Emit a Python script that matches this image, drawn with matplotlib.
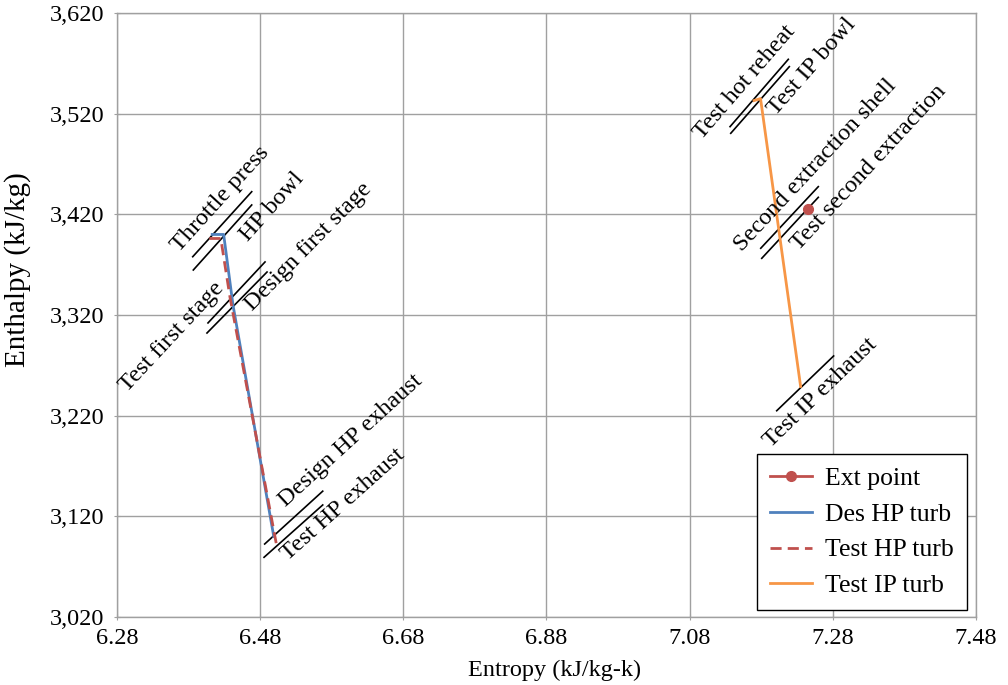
import numpy as np
import matplotlib
matplotlib.use("Agg")
import matplotlib.pyplot as plt
from matplotlib.ticker import FuncFormatter

plt.rcParams['font.family'] = ['Liberation Serif', 'DejaVu Serif']

# ---- data ----
ext_x = [7.245]
ext_y = [3425]

des_hp_x = [6.413, 6.429, 6.442, 6.499]
des_hp_y = [3400, 3400, 3330, 3100]

test_hp_x = [6.409, 6.425, 6.438, 6.503]
test_hp_y = [3396, 3396, 3337, 3091]

test_ip_x = [7.170, 7.179, 7.235]
test_ip_y = [3533, 3535, 3249]

x_ticks = [6.28, 6.48, 6.68, 6.88, 7.08, 7.28, 7.48]
y_ticks = [3020, 3120, 3220, 3320, 3420, 3520, 3620]

# annotation labels with marker segment (data coords) and text centre
ann_labels = ["Throttle press", "HP bowl", "Test first stage", "Design first stage",
              "Design HP exhaust", "Test HP exhaust", "Test hot reheat", "Test IP bowl",
              "Second extraction shell", "Test second extraction", "Test IP exhaust"]
ann_seg = [((6.3858, 3377.9), (6.4682, 3442.5)),
           ((6.3866, 3364.7), (6.4682, 3429.3)),
           ((6.4071, 3312.1), (6.4868, 3372.7)),
           ((6.4057, 3302.1), (6.4896, 3362.7)),
           ((6.4863, 3092.5), (6.5674, 3145.0)),
           ((6.4854, 3079.3), (6.5674, 3131.3)),
           ((7.1364, 3507.1), (7.2178, 3574.0)),
           ((7.1374, 3500.5), (7.2192, 3566.7)),
           ((7.1793, 3386.3), (7.2597, 3447.5)),
           ((7.1807, 3376.3), (7.2597, 3436.9)),
           ((7.2016, 3224.9), (7.2811, 3279.3))]
ann_text = [(6.4246, 3435.2), (6.4961, 3427.6), (6.3568, 3298.1), (6.5473, 3387.8),
            (6.6059, 3195.0), (6.5962, 3131.3), (7.1573, 3551.0), (7.2509, 3567.0),
            (7.2562, 3468.2), (7.3306, 3466.5), (7.2621, 3243.0)]

# ---- figure ----
W, H = 1008, 685
fig = plt.figure(figsize=(W / 100, H / 100), dpi=100)
ax = fig.add_axes([117 / W, 1 - 617 / H, (976 - 117) / W, (617 - 13) / H])

ax.set_xlim(6.28, 7.48)
ax.set_ylim(3020, 3620)
ax.set_xticks(x_ticks)
ax.set_yticks(y_ticks)
ax.xaxis.set_major_formatter(FuncFormatter(lambda v, p: f"{v:.2f}"))
ax.yaxis.set_major_formatter(FuncFormatter(lambda v, p: f"{v:,.0f}"))
ax.grid(True, color='#a0a0a0', lw=1.0)
ax.set_axisbelow(True)
for s in ax.spines.values():
    s.set_color('#a0a0a0')
    s.set_linewidth(1.0)
ax.tick_params(axis='both', labelsize=17.5, color='#a0a0a0', length=4, direction='inout')
ax.tick_params(axis='y', pad=7)
ax.tick_params(axis='x', pad=6)

ax.plot(ext_x, ext_y, '-o', color='#C0504D', lw=2, ms=7, label='Ext point', zorder=5)
ax.plot(des_hp_x, des_hp_y, '-', color='#4F81BD', lw=2, label='Des HP turb', zorder=3)
ax.plot(test_hp_x, test_hp_y, color='#C0504D', lw=2, linestyle=(0, (4, 2.2)),
        label='Test HP turb', zorder=4)
ax.plot(test_ip_x, test_ip_y, '-', color='#F79646', lw=2, label='Test IP turb', zorder=3)

for lab, (p1, p2), (tx, ty) in zip(ann_labels, ann_seg, ann_text):
    ax.plot([p1[0], p2[0]], [p1[1], p2[1]], color='black', lw=1.2, zorder=2)
    d1 = ax.transData.transform(p1)
    d2 = ax.transData.transform(p2)
    ang = np.degrees(np.arctan2(d2[1] - d1[1], d2[0] - d1[0]))
    ax.text(tx, ty, lab, rotation=ang, rotation_mode='anchor', ha='center',
            va='center', fontsize=17.5, zorder=6)

ax.set_xlabel('Entropy (kJ/kg-k)', fontsize=17.5)
ax.set_ylabel('Enthalpy (kJ/kg)', fontsize=21)
ax.xaxis.label.set_va('center')
ax.yaxis.label.set_va('center')
ax.xaxis.set_label_coords((555 - 117) / 859, (617 - 670) / 604)
ax.yaxis.set_label_coords((18 - 117) / 859, (617 - 270) / 604)

leg = ax.legend(loc='upper left', bbox_to_anchor=((757 - 117) / 859, (617 - 454) / 604),
                fontsize=18.5, frameon=True, fancybox=False, edgecolor='black',
                framealpha=1, handlelength=1.65, handletextpad=0.5, labelspacing=0.5,
                borderpad=0.5, borderaxespad=0)
leg.get_frame().set_linewidth(1.0)

fig.savefig('out.png', dpi=100)
